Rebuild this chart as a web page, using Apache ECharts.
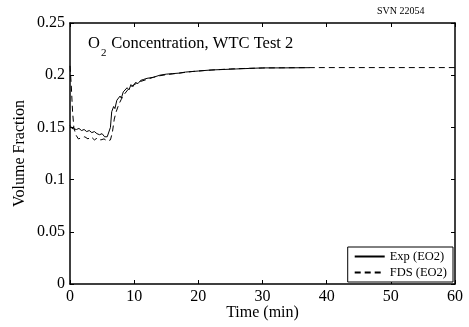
<!DOCTYPE html>
<html>
<head>
<meta charset="utf-8">
<script src="https://cdn.jsdelivr.net/npm/echarts@6/dist/echarts.min.js"></script>
<style>
html,body{margin:0;padding:0;background:#fff;}
#chart{width:469px;height:327px;}
</style>
</head>
<body>
<div id="chart"></div>
<script>
var expTime=[0,0.3,0.6,1.0,1.4,1.8,2.2,2.6,3.0,3.4,3.8,4.2,4.6,5.0,5.4,5.8,6.1,6.3,6.5,6.8,7.0,7.3,7.5,7.8,8.0,8.3,8.6,8.9,9.2,9.5,9.8,10.2,10.6,11.0,11.5,12,13,14,15,16,17,18,19,20,22,24,26,28,30,33,37.3];
var expO2=[0.152,0.149,0.150,0.148,0.149,0.147,0.148,0.146,0.147,0.145,0.146,0.144,0.143,0.144,0.141,0.141,0.142,0.150,0.165,0.170,0.168,0.176,0.175,0.180,0.178,0.184,0.183,0.188,0.186,0.191,0.189,0.193,0.192,0.195,0.196,0.197,0.198,0.200,0.201,0.2015,0.202,0.203,0.2035,0.204,0.205,0.2055,0.206,0.2065,0.207,0.207,0.2072];
var fdsTime=[0,0.2,0.4,0.6,0.9,1.3,1.8,2.3,2.8,3.3,3.8,4.3,4.8,5.3,5.8,6.3,6.6,6.9,7.2,7.6,8.0,8.5,9,9.5,10,11,12,13,14,15,17,19,21,23,25,28,31,35,40,60];
var fdsO2=[0.209,0.19,0.165,0.15,0.143,0.139,0.140,0.141,0.139,0.141,0.138,0.140,0.138,0.139,0.137,0.138,0.145,0.158,0.165,0.172,0.177,0.182,0.186,0.189,0.191,0.194,0.196,0.198,0.1995,0.2005,0.202,0.2035,0.2045,0.2053,0.206,0.2066,0.207,0.2072,0.2073,0.2073];
var seriesNames=['Exp (EO2)','FDS (EO2)'];

function pairs(t,v){
    var out=[];
    for(var i=0;i<t.length;i++){
        out.push([t[i],v[i]]);
    }
    return out;
}

var font='Liberation Serif';
var axisLine={show:true,onZero:false,lineStyle:{color:'#000',width:1.5}};
var tick={show:true,inside:true,length:4,lineStyle:{color:'#000',width:1}};

var myChart=echarts.init(document.getElementById('chart'));
var option={
    animation:false,
    backgroundColor:'#fff',
    grid:{left:70,right:14,top:23,bottom:43,outerBoundsMode:'none',containLabel:false},
    legend:{
        orient:'vertical',
        right:16,
        bottom:45,
        align:'left',
        backgroundColor:'#fff',
        borderColor:'#000',
        borderWidth:1,
        borderRadius:0,
        padding:[3,6,3,6],
        itemGap:3,
        itemWidth:30,
        itemHeight:10,
        itemStyle:{color:'rgba(0,0,0,0)',borderWidth:0},
        textStyle:{fontFamily:font,fontSize:12.5,color:'#000'},
        data:seriesNames
    },
    graphic:[
        {type:'text',left:377,top:6,style:{text:'SVN 22054',fontFamily:font,fontSize:10,fill:'#000'}},
        {type:'text',left:88,top:35,style:{text:'O',fontFamily:font,fontSize:16.5,fill:'#000'}},
        {type:'text',left:101,top:48,style:{text:'2',fontFamily:font,fontSize:11,fill:'#000'}},
        {type:'text',left:107,top:35,style:{text:' Concentration, WTC Test 2',fontFamily:font,fontSize:16.5,fill:'#000'}}
    ],
    xAxis:[
        {
            type:'value',min:0,max:60,interval:10,position:'bottom',
            name:'Time (min)',nameLocation:'middle',nameGap:21,nameMoveOverlap:false,
            nameTextStyle:{fontFamily:font,fontSize:16,color:'#000'},
            axisLine:axisLine,axisTick:tick,splitLine:{show:false},
            axisLabel:{fontFamily:font,fontSize:16,color:'#000',margin:5}
        },
        {
            type:'value',min:0,max:60,interval:10,position:'top',
            axisLine:axisLine,axisTick:tick,splitLine:{show:false},
            axisLabel:{show:false}
        }
    ],
    yAxis:[
        {
            type:'value',min:0,max:0.25,interval:0.05,position:'left',
            name:'Volume Fraction',nameLocation:'middle',nameGap:42,nameMoveOverlap:false,
            nameTextStyle:{fontFamily:font,fontSize:16,color:'#000'},
            axisLine:axisLine,axisTick:tick,splitLine:{show:false},
            axisLabel:{fontFamily:font,fontSize:16,color:'#000',margin:5}
        },
        {
            type:'value',min:0,max:0.25,interval:0.05,position:'right',
            axisLine:axisLine,axisTick:tick,splitLine:{show:false},
            axisLabel:{show:false}
        }
    ],
    series:[
        {
            name:seriesNames[0],
            type:'line',
            showSymbol:false,
            symbol:'none',
            lineStyle:{color:'#000',width:1},
            itemStyle:{color:'#000'},
            data:pairs(expTime,expO2)
        },
        {
            name:seriesNames[1],
            type:'line',
            showSymbol:false,
            symbol:'none',
            lineStyle:{color:'#000',width:1,type:[6,4]},
            itemStyle:{color:'#000'},
            data:pairs(fdsTime,fdsO2)
        }
    ]
};
myChart.setOption(option);
</script>
</body>
</html>
